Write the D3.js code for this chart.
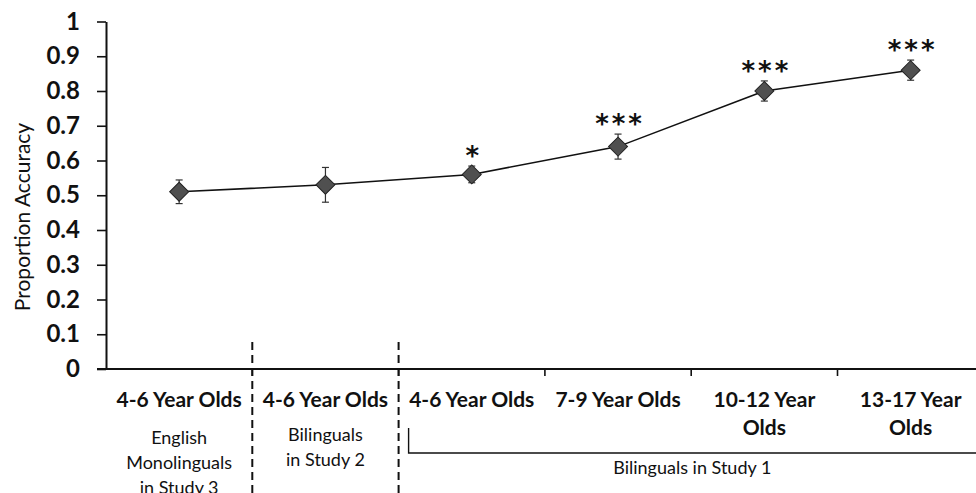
<!DOCTYPE html>
<html>
<head>
<meta charset="utf-8">
<script src="https://cdn.jsdelivr.net/npm/d3@7"></script>
<style>
  html, body { margin: 0; padding: 0; background: #fff; }
  svg { display: block; }
  text { font-family: Lato, "Open Sans", sans-serif; fill: #111; }
</style>
</head>
<body>
<svg id="chart" width="976" height="493"></svg>
<script>
// Age groups along the x axis (wrapped lines for the longer ones)
const categoryLines = [
  ["4-6 Year Olds"],
  ["4-6 Year Olds"],
  ["4-6 Year Olds"],
  ["7-9 Year Olds"],
  ["10-12 Year", "Olds"],
  ["13-17 Year", "Olds"]
];
// Mean proportion accuracy per group
const accuracy = [0.51, 0.53, 0.56, 0.64, 0.80, 0.86];
// Standard error per group
const stdError = [0.034, 0.05, 0.024, 0.036, 0.029, 0.029];
// Significance stars above chance
const significance = ["", "", "*", "***", "***", "***"];
// y tick labels
const yTicks = [0, 0.1, 0.2, 0.3, 0.4, 0.5, 0.6, 0.7, 0.8, 0.9, 1];
// Study groupings under the axis
const studyLabels = [
  { from: 0, to: 0, lines: ["English", "Monolinguals", "in Study 3"] },
  { from: 1, to: 1, lines: ["Bilinguals", "in Study 2"] },
  { from: 2, to: 5, lines: ["Bilinguals in Study 1"], bracket: true }
];

const svg = d3.select("#chart");
const left = 106, axisY = 369, topY = 21.5;
const catW = 146.3;
const nCat = categoryLines.length;

const y = d3.scaleLinear().domain([0, 1]).range([axisY, topY]);
const xEdge = d3.scaleLinear().domain([0, nCat]).range([left, left + nCat * catW]);
const x = i => xEdge(i + 0.5);

// y axis
const yAxis = d3.axisLeft(y).tickValues(yTicks).tickSize(9).tickSizeOuter(0)
  .tickFormat(d => d === 0 || d === 1 ? String(d) : d3.format(".1f")(d));
const gy = svg.append("g").attr("transform", `translate(${left},0)`).call(yAxis);
gy.select(".domain").attr("stroke", "#111").attr("stroke-width", 2);
gy.selectAll(".tick line").attr("stroke", "#111").attr("stroke-width", 1.6);
gy.selectAll(".tick text")
  .attr("x", -26)
  .style("font-family", "Lato, sans-serif")
  .style("font-size", "24px").style("font-weight", "bold").attr("fill", "#111");

// x axis line and category boundary ticks
svg.append("line")
  .attr("x1", left - 9).attr("x2", 976)
  .attr("y1", axisY).attr("y2", axisY)
  .attr("stroke", "#111").attr("stroke-width", 2);
svg.append("g").selectAll("line")
  .data(d3.range(1, nCat))
  .join("line")
  .attr("x1", d => xEdge(d)).attr("x2", d => xEdge(d))
  .attr("y1", axisY).attr("y2", axisY + 7)
  .attr("stroke", "#111").attr("stroke-width", 1.6);

// y axis title
svg.append("text")
  .attr("transform", `translate(30,217) rotate(-90)`)
  .attr("text-anchor", "middle")
  .style("font-size", "21px")
  .text("Proportion Accuracy");

// category labels
const catG = svg.append("g");
categoryLines.forEach((lines, i) => {
  const t = catG.append("text")
    .attr("text-anchor", "middle")
    .style("font-size", "21px").style("font-weight", "bold");
  lines.forEach((ln, k) => {
    t.append("tspan").attr("x", x(i)).attr("y", 407 + k * 28).text(ln);
  });
});

// dashed separators between studies
[1, 2].forEach(b => {
  svg.append("line")
    .attr("x1", xEdge(b)).attr("x2", xEdge(b))
    .attr("y1", 342).attr("y2", 493)
    .attr("stroke", "#111").attr("stroke-width", 2)
    .attr("stroke-dasharray", "8,5");
});

// study labels
studyLabels.forEach(s => {
  const cx = s.bracket ? (xEdge(s.from) + 10 + 976) / 2 : (x(s.from) + x(s.to)) / 2;
  const t = svg.append("text").attr("text-anchor", "middle").style("font-size", "18px");
  const y0 = s.bracket ? 474 : (s.lines.length === 3 ? 444 : 441);
  s.lines.forEach((ln, k) => {
    t.append("tspan").attr("x", cx).attr("y", y0 + k * 25).text(ln);
  });
  if (s.bracket) {
    const bx = xEdge(s.from) + 10;
    svg.append("path")
      .attr("d", `M${bx},428 V453 H976`)
      .attr("fill", "none").attr("stroke", "#111").attr("stroke-width", 1.4);
  }
});

// connecting line
const line = d3.line().x((d, i) => x(i)).y(d => y(d));
svg.append("path")
  .datum(accuracy)
  .attr("d", line)
  .attr("fill", "none").attr("stroke", "#111").attr("stroke-width", 1.5);

// error bars
const eb = svg.append("g").attr("stroke", "#333").attr("stroke-width", 1.2);
accuracy.forEach((v, i) => {
  const cx = x(i), y1 = y(v + stdError[i]), y2 = y(v - stdError[i]);
  eb.append("line").attr("x1", cx).attr("x2", cx).attr("y1", y1).attr("y2", y2);
  eb.append("line").attr("x1", cx - 3.5).attr("x2", cx + 3.5).attr("y1", y1).attr("y2", y1);
  eb.append("line").attr("x1", cx - 3.5).attr("x2", cx + 3.5).attr("y1", y2).attr("y2", y2);
});

// diamond markers
const diamond = d3.symbol().type(d3.symbolSquare).size(180);
svg.append("g").selectAll("path")
  .data(accuracy)
  .join("path")
  .attr("d", diamond)
  .attr("transform", (d, i) => `translate(${x(i)},${y(d)}) rotate(45)`)
  .attr("fill", "#505050").attr("stroke", "#222").attr("stroke-width", 1);

// significance stars
svg.append("g").selectAll("text")
  .data(significance)
  .join("text")
  .attr("text-anchor", "middle")
  .attr("x", (d, i) => x(i) + 2)
  .attr("y", (d, i) => y(accuracy[i] + stdError[i]) - 16 + 15)
  .style("font-family", "'DejaVu Sans', sans-serif")
  .style("font-size", "26px")
  .style("font-weight", "bold")
  .style("letter-spacing", "3px")
  .text(d => d);
</script>
</body>
</html>
